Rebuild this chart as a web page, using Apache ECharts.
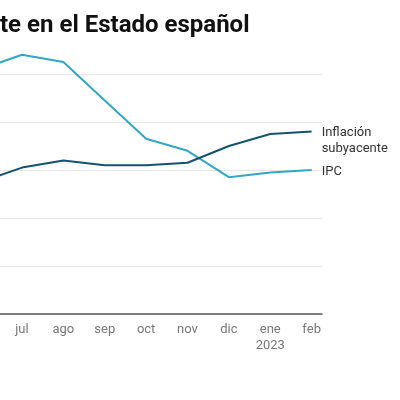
<!DOCTYPE html>
<html>
<head>
<meta charset="utf-8">
<script src="https://cdn.jsdelivr.net/npm/echarts@6/dist/echarts.min.js"></script>
<style>
html, body { margin: 0; padding: 0; background: #fff; overflow: hidden; }
#wrap { position: absolute; left: 0; top: 0; width: 400px; height: 400px; overflow: hidden; }
#main { position: absolute; left: -60px; top: 0; width: 460px; height: 400px; }
</style>
</head>
<body>
<div id="wrap"><div id="main"></div></div>
<script>
// meses (jun 2022 - feb 2023)
var months = ["jun", "jul", "ago", "sep", "oct", "nov", "dic", "ene\n2023", "feb"];
var ipc = [10.2, 10.8, 10.5, 8.9, 7.3, 6.8, 5.7, 5.9, 6.0];
var subyacente = [5.5, 6.1, 6.4, 6.2, 6.2, 6.3, 7.0, 7.5, 7.6];
var yTicks = [0, 2, 4, 6, 8, 10, 12];

function toPairs(arr){
	return arr.map(function(v, i){ return [i, v]; });
}

var chart = echarts.init(document.getElementById('main'));
var option = {
	animation: false,
	title: {
		text: "te en el Estado español",
		left: 60,
		top: 14,
		padding: 0,
		textStyle: { fontFamily: "Roboto", fontWeight: "bold", fontSize: 24, color: "#111" }
	},
	grid: { left: 40.6, right: 78, top: 26, bottom: 86 },
	xAxis: {
		type: "value",
		min: 0,
		max: 8.25,
		interval: 1,
		splitLine: { show: false },
		axisTick: { show: false },
		axisLine: { show: true, lineStyle: { color: "#555", width: 1.5 } },
		axisLabel: {
			color: "#777",
			fontFamily: "Roboto",
			fontSize: 13,
			lineHeight: 16,
			margin: 8,
			showMaxLabel: false,
			formatter: function(v){
				return Number.isInteger(v) && months[v] !== undefined ? months[v] : "";
			}
		}
	},
	yAxis: {
		type: "value",
		min: yTicks[0],
		max: yTicks[yTicks.length - 1],
		interval: 2,
		axisLabel: { show: false },
		axisLine: { show: false },
		axisTick: { show: false },
		splitLine: { show: true, showMaxLine: false, showMinLine: false, lineStyle: { color: "#e6e6e6", width: 1 } }
	},
	series: [
		{
			name: "IPC",
			type: "line",
			data: toPairs(ipc),
			symbol: "none",
			lineStyle: { color: "#33a6c8", width: 2 },
			endLabel: {
				show: true,
				formatter: "IPC",
				color: "#333",
				fontFamily: "Roboto",
				fontSize: 13,
				distance: 10,
				offset: [0, 2]
			}
		},
		{
			name: "Inflación subyacente",
			type: "line",
			data: toPairs(subyacente),
			symbol: "none",
			lineStyle: { color: "#14536f", width: 2 },
			endLabel: {
				show: true,
				formatter: "Inflación\nsubyacente",
				color: "#333",
				fontFamily: "Roboto",
				fontSize: 13,
				lineHeight: 16,
				distance: 10,
				offset: [0, 9]
			}
		}
	]
};
chart.setOption(option);
</script>
</body>
</html>
